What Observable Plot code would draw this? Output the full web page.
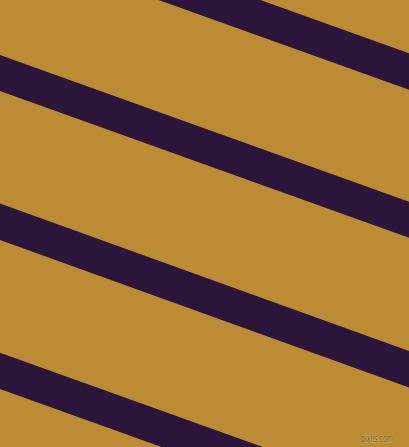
<!DOCTYPE html>
<html>
<head>
<meta charset="utf-8">
<script src="https://cdn.jsdelivr.net/npm/d3@7"></script>
<script src="https://cdn.jsdelivr.net/npm/@observablehq/plot@0.6"></script>
<style>
html,body{margin:0;padding:0;overflow:hidden;background:#BB8C33;}
svg{display:block;}
</style>
</head>
<body>
<div id="chart"></div>
<script>
// Stripe edge positions (pixel-space units of the picture)
const edgeX = [0, 409];
const stripeUpperLeft = [-93.4, 55, 203.5, 352.8];
const stripeUpperRight = [53.3, 201.7, 351, 499.4];
const stripeThickness = [36.5, 36, 36.5, 36.3];
const watermark = ["pixlis.com"];

const rows = [];
stripeUpperLeft.forEach((yl, i) => {
  const yr = stripeUpperRight[i];
  edgeX.forEach((x, j) => {
    const yu = j === 0 ? yl : yr;
    rows.push({stripe: i, x, y1: yu, y2: yu + stripeThickness[i]});
  });
});

const chart = Plot.plot({
  width: 409,
  height: 447,
  margin: 0,
  x: {domain: [0, 409], axis: null},
  y: {domain: [447, 0], axis: null},
  style: {background: "#BB8C33", overflow: "hidden"},
  marks: [
    Plot.areaY(rows, {x: "x", y1: "y1", y2: "y2", z: "stripe", fill: "#2B153B", clip: true}),
    Plot.text(watermark, {x: 376.5, y: 441.3, text: d => d, lineAnchor: "bottom", fill: "#7A561C", stroke: "#D6B266", strokeWidth: 1.2, fontSize: 11, fontFamily: "DejaVu Sans", textAnchor: "middle", className: "wm"})
  ]
});
chart.querySelectorAll(".wm text").forEach(t => {
  t.setAttribute("textLength", "32");
  t.setAttribute("lengthAdjust", "spacingAndGlyphs");
  t.setAttribute("paint-order", "stroke");
});
document.getElementById("chart").appendChild(chart);
</script>
</body>
</html>
